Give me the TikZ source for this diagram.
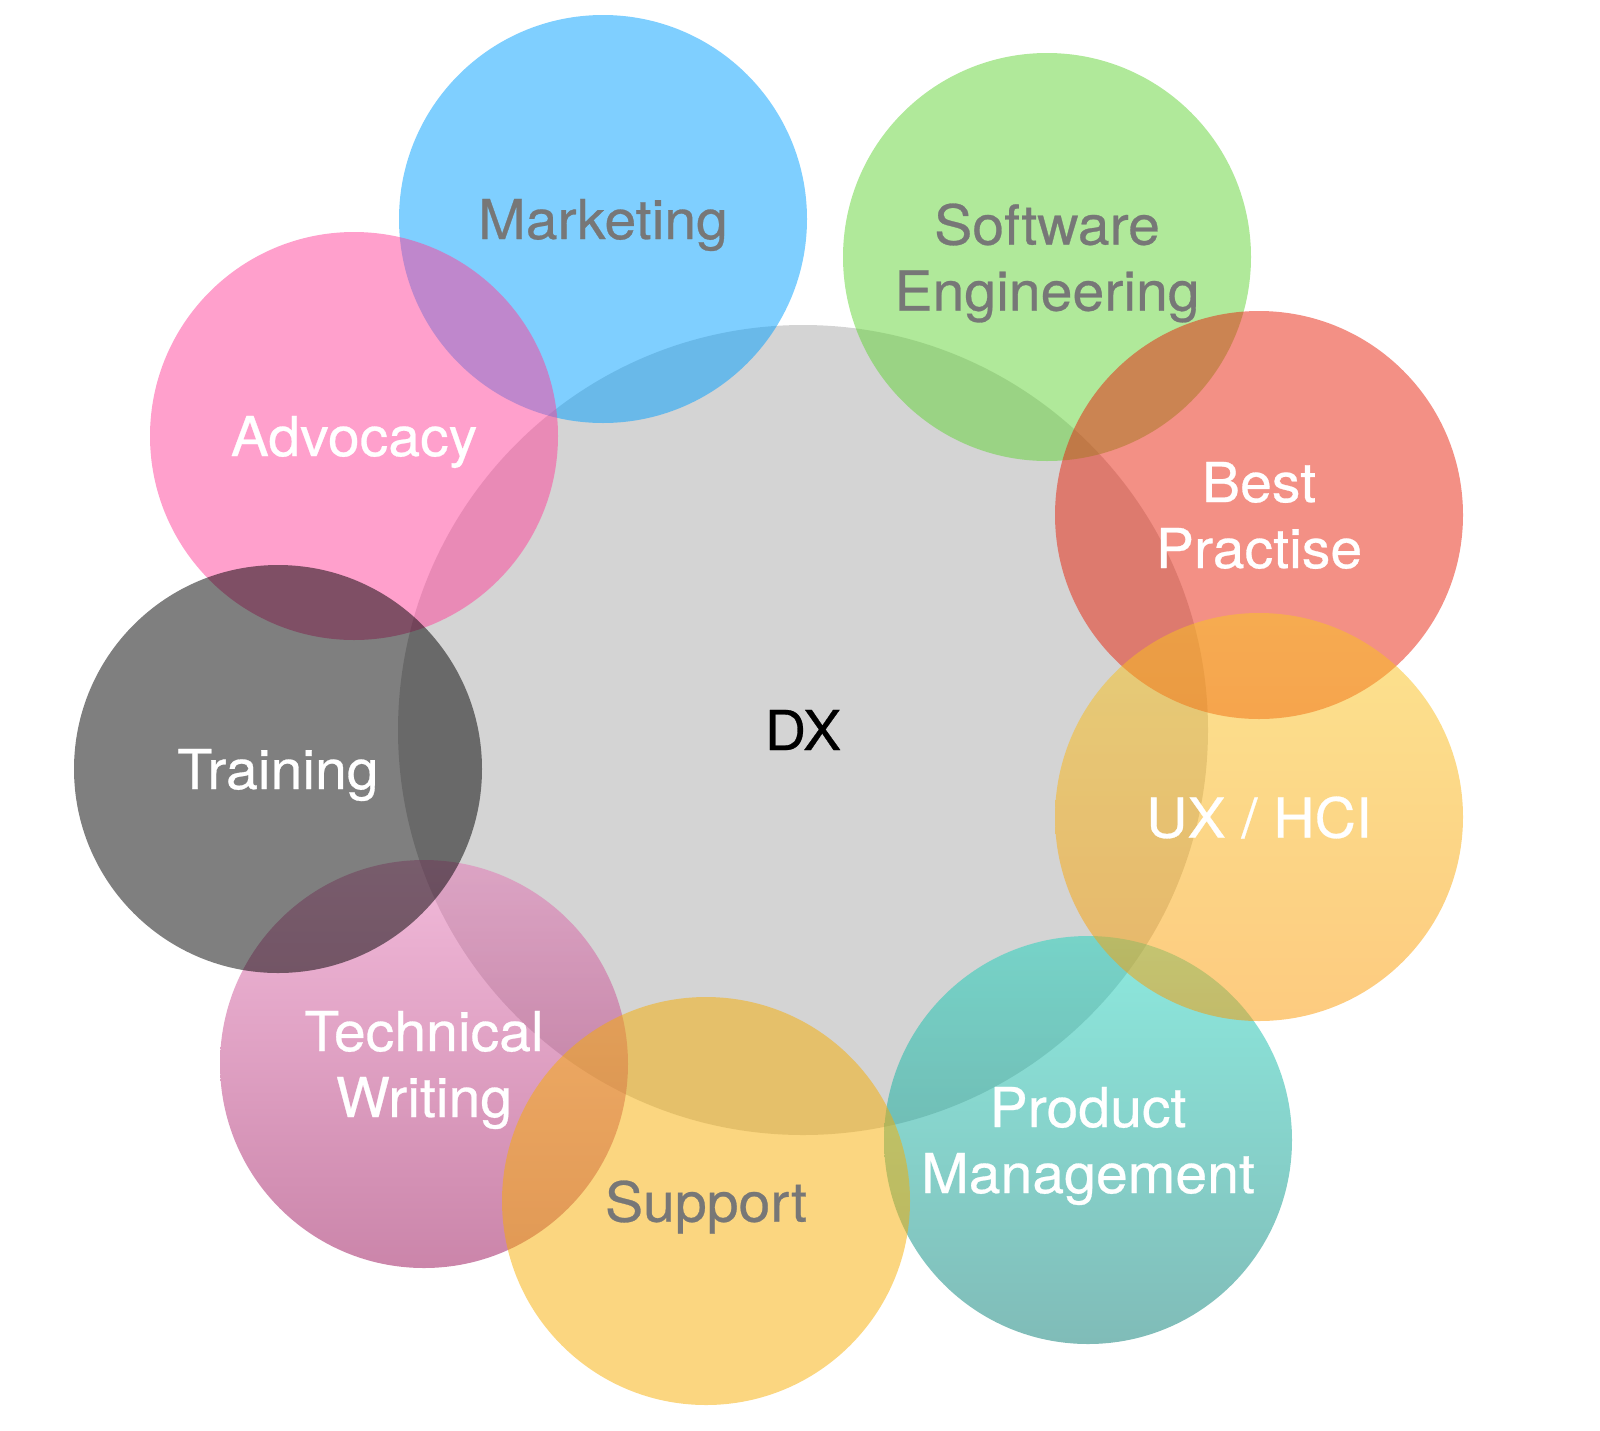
\documentclass[tikz,border=0pt]{standalone}
\usepackage{fontspec}
\setmainfont[FakeBold=0.5,FakeStretch=1.04]{TeX Gyre Heros}
\definecolor{dxGray}{HTML}{A9A9A9}
\definecolor{mktBlue}{HTML}{009FFF}
\definecolor{sweGreen}{HTML}{61D335}
\definecolor{bpRed}{HTML}{E7210B}
\definecolor{uxTop}{HTML}{F9C71F}
\definecolor{uxBottom}{HTML}{FB9700}
\definecolor{pmTop}{HTML}{1BD3BD}
\definecolor{pmBottom}{HTML}{017971}
\definecolor{supYellow}{HTML}{F7AD01}
\definecolor{twTop}{HTML}{E575B5}
\definecolor{twBottom}{HTML}{970B55}
\definecolor{advPink}{HTML}{FF4199}
\definecolor{textGray}{HTML}{777777}
\begin{document}
\begin{tikzpicture}[x=1pt,y=-1pt]
\fontsize{55}{66}\selectfont
  \tikzstyle{bubble}=[circle, inner sep=0pt, minimum size=408pt, fill opacity=0.5, text opacity=1, align=center, text depth=0pt]
  \tikzstyle{bigBubble}=[bubble, minimum size=810pt, fill=dxGray, text=black]
  \tikzstyle{grayText}=[text=textGray]
  \tikzstyle{whiteText}=[text=white]

  \useasboundingbox (0,0) rectangle (1600,1430);

  \begin{scope}
   \node[bigBubble](dx) at (803,730) {DX};

   \node[bubble,grayText,fill=mktBlue](marketing) at (603,219) {Marketing};
   \node[bubble,grayText,fill=sweGreen](software) at (1047,257) {Software\\Engineering};
   \node[bubble,whiteText,fill=bpRed](practise) at (1259,515) {Best\\Practise};
   \node[bubble,whiteText,top color=pmTop,bottom color=pmBottom](product) at (1088,1140) {Product\\Management};
   \node[bubble,whiteText,top color=uxTop,bottom color=uxBottom](ux) at (1259,817) {UX / HCI};
   \node[bubble,whiteText,top color=twTop,bottom color=twBottom](writing) at (424,1064) {Technical\\Writing};
   \node[bubble,grayText,fill=supYellow](support) at (706,1201) {Support};
   \node[bubble,whiteText,fill=advPink](advocacy) at (354,436) {Advocacy};
   \node[bubble,whiteText,fill=black](training) at (278,769) {Training};
  \end{scope}

\end{tikzpicture}
\end{document}
